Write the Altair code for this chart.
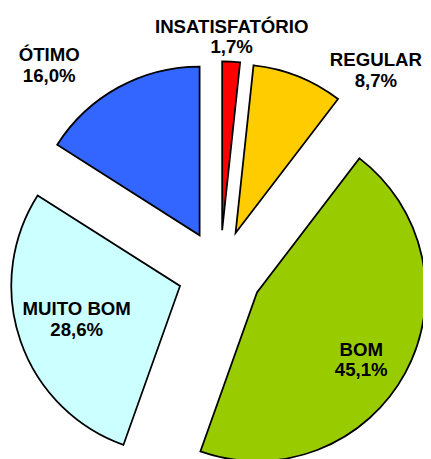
import altair as alt
import pandas as pd

# ---- data ----
categories = ["INSATISFATÓRIO", "REGULAR", "BOM", "MUITO BOM", "ÓTIMO"]
values = [1.7, 8.7, 45.1, 28.6, 16.0]
colors = ["#FF0000", "#FFCC00", "#99CC00", "#CCFFFF", "#3366FF"]

# ---- layout ----
W, H = 423, 451
CX, CY = 216, 265          # pie centre (chart pixels)
R = 172                    # pie radius
EXPLODE = 43               # slice explosion distance
label_dx = [12, 159, 144, -146, -174]
label_dy = [-250, -216, 79, 38, -221]   # centre of first label line

labels = [f"{c}\n{v:.1f}".replace(".", ",") + "%" for c, v in zip(categories, values)]

df = pd.DataFrame({
    "cat": categories,
    "value": values,
    "order": list(range(len(categories))),
    "label": labels,
    "dx": label_dx,
    "dy": label_dy,
})

base = (
    alt.Chart(df)
    .transform_window(cum="sum(value)", sort=[alt.SortField("order")], frame=[None, 0])
    .transform_joinaggregate(total="sum(value)")
    .transform_calculate(a1="2*PI*datum.cum/datum.total")
    .transform_calculate(a0="2*PI*(datum.cum-datum.value)/datum.total")
    .transform_calculate(mid="(datum.a0+datum.a1)/2")
    .transform_calculate(cx=f"{CX}+{EXPLODE}*sin(datum.mid)")
    .transform_calculate(cy=f"{CY}-{EXPLODE}*cos(datum.mid)")
)

pies = base.mark_arc(outerRadius=R, stroke="black", strokeWidth=1.8).encode(
    x=alt.X("cx:Q", scale=None, axis=None),
    y=alt.Y("cy:Q", scale=None, axis=None),
    theta=alt.Theta("a0:Q", scale=None),
    theta2="a1:Q",
    color=alt.Color("cat:N", scale=alt.Scale(domain=categories, range=colors), legend=None),
)

text = (
    alt.Chart(df)
    .transform_calculate(lx=f"{CX}+datum.dx", ly=f"{CY}+datum.dy")
    .mark_text(
        font="Liberation Sans", fontWeight="bold", fontSize=19, lineBreak="\n",
        lineHeight=21, align="center", baseline="middle", color="black",
    )
    .encode(
        x=alt.X("lx:Q", scale=None, axis=None),
        y=alt.Y("ly:Q", scale=None, axis=None),
        text="label:N",
    )
)

chart = (
    alt.layer(pies, text)
    .properties(width=W, height=H, padding=0, autosize="none", background="white")
    .configure_view(stroke=None)
)

chart.save("out.html", embed_options={"renderer": "svg", "actions": False})
